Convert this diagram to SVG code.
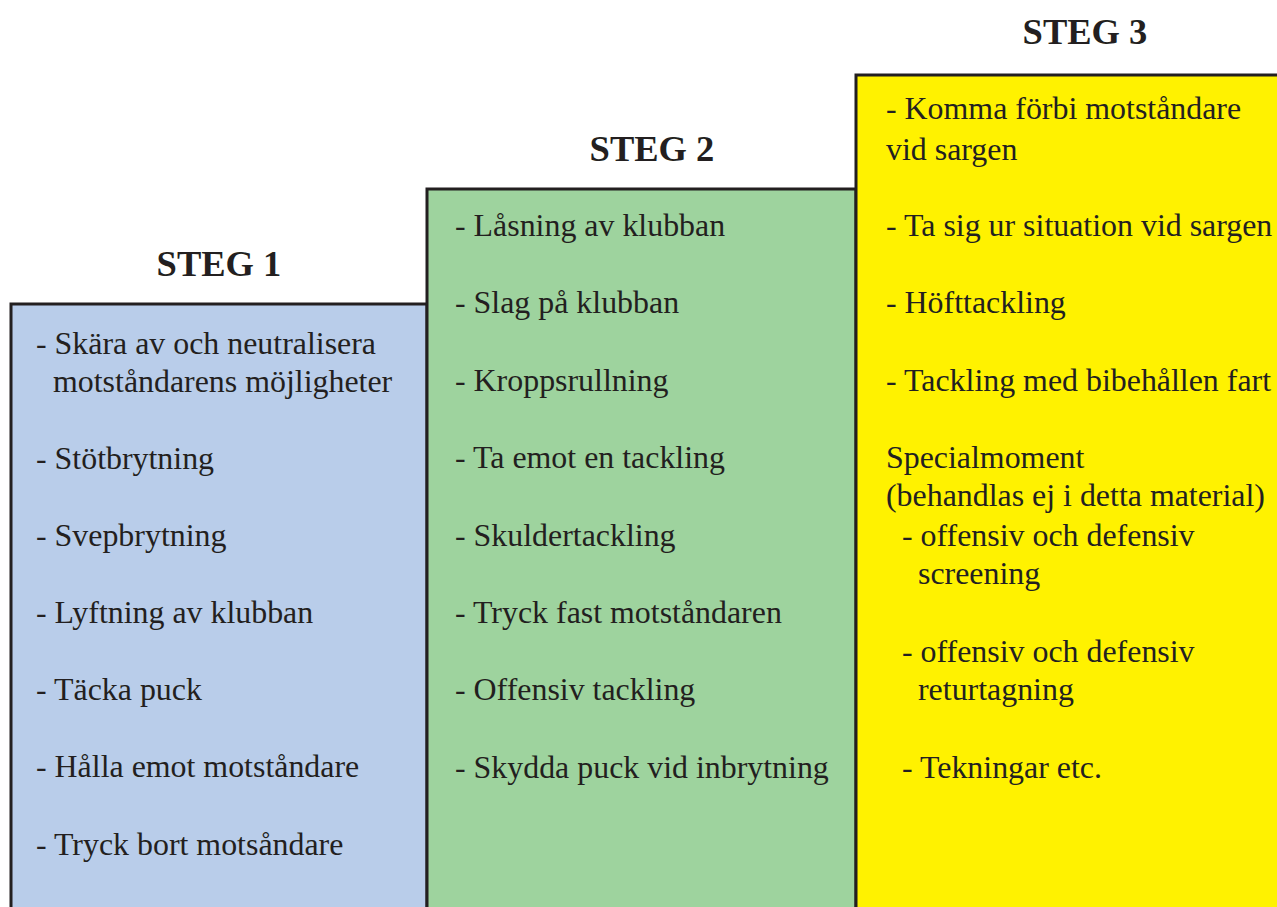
<svg xmlns="http://www.w3.org/2000/svg" width="1277" height="907" viewBox="0 0 1277 907">
<style>
.box{stroke:#231f20;stroke-width:3}
.t{font-family:"Liberation Serif","Times New Roman",serif;font-size:31.9px;fill:#231f20}
.h{font-family:"Liberation Serif","Times New Roman",serif;font-size:36.5px;font-weight:bold;fill:#231f20;text-anchor:middle}
</style>
<rect width="1277" height="907" fill="#ffffff"/>
<g id="steg1">
<rect class="box" x="11" y="304" width="416" height="620" fill="#b9cdea"/>
<text class="h" x="219" y="276">STEG 1</text>
<text class="t" x="36" y="354">- Skära av och neutralisera</text>
<text class="t" x="53" y="392">motståndarens möjligheter</text>
<text class="t" x="36" y="469">- Stötbrytning</text>
<text class="t" x="36" y="546">- Svepbrytning</text>
<text class="t" x="36" y="623">- Lyftning av klubban</text>
<text class="t" x="36" y="700">- Täcka puck</text>
<text class="t" x="36" y="777">- Hålla emot motståndare</text>
<text class="t" x="36" y="855">- Tryck bort motsåndare</text>
</g>
<g id="steg2">
<rect class="box" x="427" y="189" width="429" height="740" fill="#9ed39e"/>
<text class="h" x="652" y="161">STEG 2</text>
<text class="t" x="455" y="236">- Låsning av klubban</text>
<text class="t" x="455" y="313">- Slag på klubban</text>
<text class="t" x="455" y="391">- Kroppsrullning</text>
<text class="t" x="455" y="468">- Ta emot en tackling</text>
<text class="t" x="455" y="546">- Skuldertackling</text>
<text class="t" x="455" y="623">- Tryck fast motståndaren</text>
<text class="t" x="455" y="700">- Offensiv tackling</text>
<text class="t" x="455" y="778">- Skydda puck vid inbrytning</text>
</g>
<g id="steg3">
<rect class="box" x="856" y="75" width="440" height="860" fill="#fff200"/>
<text class="h" x="1085" y="44">STEG 3</text>
<text class="t" x="886" y="119">- Komma förbi motståndare</text>
<text class="t" x="886" y="160">vid sargen</text>
<text class="t" x="886" y="236">- Ta sig ur situation vid sargen</text>
<text class="t" x="886" y="313">- Höfttackling</text>
<text class="t" x="886" y="391">- Tackling med bibehållen fart</text>
<text class="t" x="886" y="468">Specialmoment</text>
<text class="t" x="886" y="506">(behandlas ej i detta material)</text>
<text class="t" x="902" y="546">- offensiv och defensiv</text>
<text class="t" x="918" y="584">screening</text>
<text class="t" x="902" y="662">- offensiv och defensiv</text>
<text class="t" x="918" y="700">returtagning</text>
<text class="t" x="902" y="778">- Tekningar etc.</text>
</g>
<g id="connectors"></g>
</svg>
